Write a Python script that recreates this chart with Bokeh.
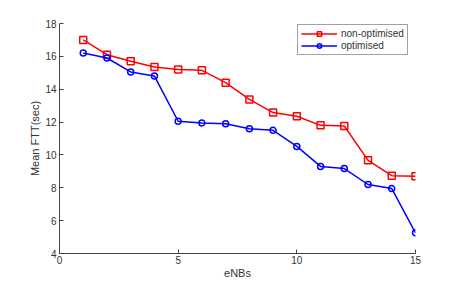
from bokeh.plotting import figure
from bokeh.models import FixedTicker, Range1d, Legend, LegendItem
from bokeh.embed import file_html
from bokeh.resources import INLINE

enbs = list(range(1, 16))
non_optimised = [17.0, 16.1, 15.7, 15.35, 15.2, 15.15, 14.4, 13.38, 12.58, 12.35, 11.8, 11.76, 9.67, 8.74, 8.7]
optimised = [16.2, 15.9, 15.05, 14.8, 12.05, 11.95, 11.9, 11.6, 11.5, 10.52, 9.3, 9.17, 8.2, 7.95, 5.26]
x_ticks = [0, 5, 10, 15]
y_ticks = [4, 6, 8, 10, 12, 14, 16, 18]

FONT = "Liberation Sans"
p = figure(width=458, height=284, output_backend="svg", toolbar_location=None,
           x_range=Range1d(0, 15), y_range=Range1d(4, 18),
           min_border_left=59, min_border_right=43, min_border_top=23, min_border_bottom=31)
p.outline_line_color = None
p.grid.visible = False
p.background_fill_color = "white"

p.xaxis.ticker = FixedTicker(ticks=x_ticks)
p.yaxis.ticker = FixedTicker(ticks=y_ticks)
for ax in (p.xaxis, p.yaxis):
    ax.major_tick_in = 4
    ax.major_tick_out = 0
    ax.minor_tick_in = 0
    ax.minor_tick_out = 0
    ax.axis_line_color = "#444444"
    ax.major_tick_line_color = "#444444"
    ax.major_label_text_font = FONT
    ax.major_label_text_font_size = "10px"
    ax.major_label_text_color = "#333333"
    ax.axis_label_text_font = FONT
    ax.axis_label_text_font_size = "11px"
    ax.axis_label_text_font_style = "normal"
    ax.axis_label_text_color = "#333333"
p.xaxis.major_label_standoff = 2
p.yaxis.major_label_standoff = 3
p.xaxis.axis_label = "eNBs"
p.yaxis.axis_label = "Mean FTT(sec)"
p.xaxis.axis_label_standoff = 0
p.yaxis.axis_label_standoff = 1

r1 = p.line(enbs, non_optimised, line_color="#ff0000", line_width=1.5)
r1m = p.scatter(enbs, non_optimised, marker="square", size=7, fill_color=None,
                line_color="#ff0000", line_width=1.5)
r2 = p.line(enbs, optimised, line_color="#0000ff", line_width=1.5)
r2m = p.scatter(enbs, optimised, marker="circle", size=6, fill_color=None,
                line_color="#0000ff", line_width=1.5)

legend = Legend(items=[LegendItem(label="non-optimised", renderers=[r1, r1m]),
                       LegendItem(label="optimised", renderers=[r2, r2m])],
                location=(238, 198), glyph_width=36, glyph_height=11,
                label_text_font=FONT, label_text_font_size="10px",
                label_text_color="#333333", label_standoff=4,
                padding=3, spacing=1, margin=0,
                border_line_color="#444444", background_fill_color="white",
                label_height=11)
p.add_layout(legend, "center")

open("out.html", "w").write(file_html(p, INLINE))
